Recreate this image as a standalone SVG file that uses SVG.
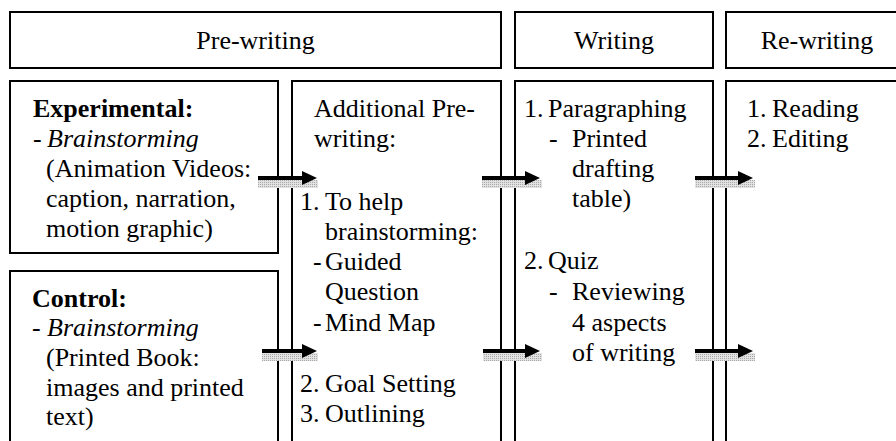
<svg xmlns="http://www.w3.org/2000/svg" width="896" height="441" viewBox="0 0 896 441">
<defs>
<style>
.box{fill:#fff;stroke:#000;stroke-width:2}
.ln{stroke:#000;stroke-width:4;fill:none}
.hd{fill:#000}
.sh{fill:url(#dots)}
</style>
<pattern id="dots" width="2" height="2" patternUnits="userSpaceOnUse">
<rect width="2" height="2" fill="#e2e2e2"/>
<rect width="1" height="1" fill="#a8a8a8"/>
</pattern>
</defs>
<rect width="896" height="441" fill="#fff"/>
<g id="hdr-prewriting">
<rect class="box" x="10" y="12" width="491" height="56"/>
<text font-family="Liberation Serif" font-size="26" text-anchor="middle" x="255.5" y="49">Pre-writing</text>
</g>
<g id="hdr-writing">
<rect class="box" x="515" y="12" width="198" height="56"/>
<text font-family="Liberation Serif" font-size="26" text-anchor="middle" x="614" y="49">Writing</text>
</g>
<g id="hdr-rewriting">
<rect class="box" x="726" y="12" width="190" height="56"/>
<text font-family="Liberation Serif" font-size="26" text-anchor="middle" x="817" y="49">Re-writing</text>
</g>
<g id="experimental">
<rect class="box" x="10" y="81" width="268" height="172"/>
<text font-family="Liberation Serif" font-size="26" font-weight="bold" x="33" y="117">Experimental:</text>
<text font-family="Liberation Serif" font-size="26" x="33" y="147">-</text>
<text font-family="Liberation Serif" font-size="26" font-style="italic" x="47" y="147">Brainstorming</text>
<text font-family="Liberation Serif" font-size="26" x="46" y="177">(Animation Videos:</text>
<text font-family="Liberation Serif" font-size="26" x="46" y="207">caption, narration,</text>
<text font-family="Liberation Serif" font-size="26" x="46" y="237">motion graphic)</text>
</g>
<g id="control">
<rect class="box" x="10" y="271" width="268" height="190"/>
<text font-family="Liberation Serif" font-size="26" font-weight="bold" x="32" y="307">Control:</text>
<text font-family="Liberation Serif" font-size="26" x="32" y="336">-</text>
<text font-family="Liberation Serif" font-size="26" font-style="italic" x="47" y="336">Brainstorming</text>
<text font-family="Liberation Serif" font-size="26" x="46" y="366">(Printed Book:</text>
<text font-family="Liberation Serif" font-size="26" x="46" y="396">images and printed</text>
<text font-family="Liberation Serif" font-size="26" x="46" y="425">text)</text>
</g>
<g id="additional">
<rect class="box" x="292" y="81" width="209" height="380"/>
<text font-family="Liberation Serif" font-size="26" x="314" y="117">Additional Pre-</text>
<text font-family="Liberation Serif" font-size="26" x="314" y="147">writing:</text>
<text font-family="Liberation Serif" font-size="26" x="300" y="210">1.</text>
<text font-family="Liberation Serif" font-size="26" x="325" y="210">To help</text>
<text font-family="Liberation Serif" font-size="26" x="325" y="240">brainstorming:</text>
<text font-family="Liberation Serif" font-size="26" x="313" y="270">-</text>
<text font-family="Liberation Serif" font-size="26" x="325" y="270">Guided</text>
<text font-family="Liberation Serif" font-size="26" x="325" y="300">Question</text>
<text font-family="Liberation Serif" font-size="26" x="313" y="331">-</text>
<text font-family="Liberation Serif" font-size="26" x="325" y="331">Mind Map</text>
<text font-family="Liberation Serif" font-size="26" x="300" y="392">2.</text>
<text font-family="Liberation Serif" font-size="26" x="325" y="392">Goal Setting</text>
<text font-family="Liberation Serif" font-size="26" x="300" y="422">3.</text>
<text font-family="Liberation Serif" font-size="26" x="325" y="422">Outlining</text>
</g>
<g id="writing">
<rect class="box" x="515" y="81" width="198" height="380"/>
<text font-family="Liberation Serif" font-size="26" x="524" y="117">1.</text>
<text font-family="Liberation Serif" font-size="26" x="548" y="117">Paragraphing</text>
<text font-family="Liberation Serif" font-size="26" x="549" y="147">-</text>
<text font-family="Liberation Serif" font-size="26" x="572" y="147">Printed</text>
<text font-family="Liberation Serif" font-size="26" x="572" y="177">drafting</text>
<text font-family="Liberation Serif" font-size="26" x="572" y="207">table)</text>
<text font-family="Liberation Serif" font-size="26" x="524" y="269">2.</text>
<text font-family="Liberation Serif" font-size="26" x="548" y="269">Quiz</text>
<text font-family="Liberation Serif" font-size="26" x="549" y="300">-</text>
<text font-family="Liberation Serif" font-size="26" x="572" y="300">Reviewing</text>
<text font-family="Liberation Serif" font-size="26" x="572" y="331">4 aspects</text>
<text font-family="Liberation Serif" font-size="26" x="572" y="361">of writing</text>
</g>
<g id="rewriting">
<rect class="box" x="726" y="81" width="190" height="380"/>
<text font-family="Liberation Serif" font-size="26" x="747" y="117">1.</text>
<text font-family="Liberation Serif" font-size="26" x="772" y="117">Reading</text>
<text font-family="Liberation Serif" font-size="26" x="747" y="147">2.</text>
<text font-family="Liberation Serif" font-size="26" x="772" y="147">Editing</text>
</g>
<g id="connectors">
<rect class="sh" x="258" y="180" width="60" height="8"/>
<rect class="sh" x="482" y="180" width="60" height="8"/>
<rect class="sh" x="695" y="180" width="60" height="8"/>
<rect class="sh" x="262" y="353" width="56" height="8"/>
<rect class="sh" x="483" y="353" width="59" height="8"/>
<rect class="sh" x="695" y="353" width="60" height="8"/>
<line class="ln" x1="258" y1="178" x2="304" y2="178"/>
<line class="ln" x1="482" y1="178" x2="527" y2="178"/>
<line class="ln" x1="695" y1="178" x2="740" y2="178"/>
<line class="ln" x1="262" y1="351" x2="304" y2="351"/>
<line class="ln" x1="483" y1="351" x2="527" y2="351"/>
<line class="ln" x1="695" y1="351" x2="740" y2="351"/>
<path class="hd" d="M302,171 L317,178 L302,185 Z"/>
<path class="hd" d="M525,171 L540,178 L525,185 Z"/>
<path class="hd" d="M738,171 L753,178 L738,185 Z"/>
<path class="hd" d="M302,344 L317,351 L302,358 Z"/>
<path class="hd" d="M525,344 L540,351 L525,358 Z"/>
<path class="hd" d="M738,344 L753,351 L738,358 Z"/>
</g>
</svg>
